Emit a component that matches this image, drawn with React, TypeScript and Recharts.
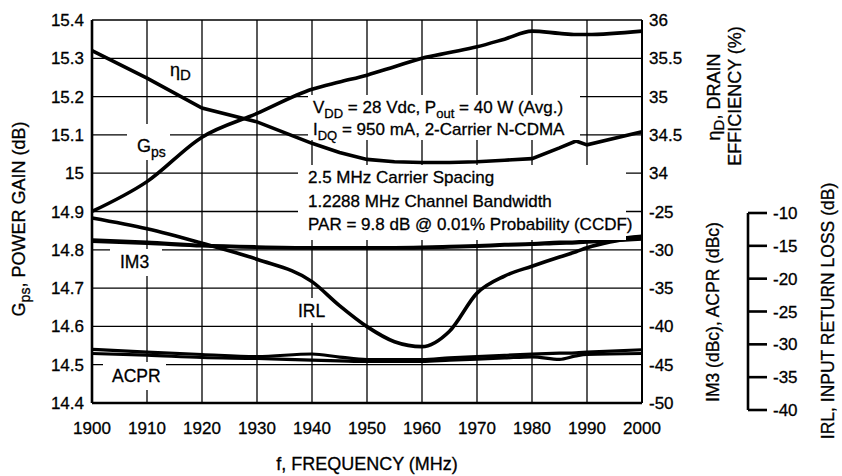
import React from 'react';
import { ComposedChart, Line, XAxis, YAxis, CartesianGrid } from 'recharts';

// ---- data ----
const freqs = [1900, 1910, 1920, 1930, 1940, 1945, 1950, 1955, 1960, 1965, 1970, 1975, 1980, 1985, 1988, 1990, 2000];
const gps = [14.9, 14.978, 15.094, 15.156, 15.219, 15.238, 15.256, 15.278, 15.3, 15.315, 15.33, 15.35, 15.371, 15.365, 15.362, 15.362, 15.371];
const eff = [35.6, 35.24, 34.85, 34.67, 34.39, 34.27, 34.18, 34.15, 34.14, 34.14, 34.15, 34.17, 34.19, 34.33, 34.42, 34.37, 34.54];
const im3Upper = [-28.7, -29.0, -29.4, -29.6, -29.7, -29.7, -29.7, -29.7, -29.65, -29.55, -29.45, -29.3, -29.2, -29.0, -28.95, -28.85, -28.2];
const im3Lower = [-28.9, -29.15, -29.5, -29.7, -29.8, -29.8, -29.8, -29.8, -29.75, -29.65, -29.55, -29.4, -29.3, -29.15, -29.1, -29.0, -28.6];
const acprUpper = [-43.0, -43.37, -43.67, -43.93, -43.6, -44.0, -44.32, -44.32, -44.32, -44.1, -43.93, -43.78, -43.63, -43.5, -43.45, -43.37, -43.05];
const acprLower = [-43.54, -43.76, -44.06, -44.19, -44.41, -44.5, -44.58, -44.58, -44.58, -44.42, -44.28, -44.12, -43.97, -44.3, -43.85, -43.67, -43.54];
const irl = [-10.76, -12.4, -14.6, -17.05, -20.45, -24.1, -27.3, -29.6, -30.35, -28.0, -22.2, -19.6, -18.1, -16.7, -15.9, -15.3, -13.6];

const xTicks = [1900, 1910, 1920, 1930, 1940, 1950, 1960, 1970, 1980, 1990, 2000];
const gpsTicks = [14.4, 14.5, 14.6, 14.7, 14.8, 14.9, 15, 15.1, 15.2, 15.3, 15.4];
const effTickLabels = [36, 35.5, 35, 34.5, 34];
const imdTickLabels = [-25, -30, -35, -40, -45, -50];
const irlTicks = [-40, -35, -30, -25, -20, -15, -10];

// right axis: one shared column of labels, efficiency on top half, IM3/ACPR on bottom half
const rightPositions = [0, -5, -10, -15, -20, -25, -30, -35, -40, -45, -50];
const rightLabel = (v: number) => {
  const i = rightPositions.indexOf(v);
  return i < effTickLabels.length ? String(effTickLabels[i]) : String(imdTickLabels[i - effTickLabels.length]);
};

// IRL hidden axis aligned so that -10 / -40 fall on the separate bracket axis
const IRL_TOP = 19.39;
const IRL_BOTTOM = -38.93;

const data = freqs.map((f, i) => ({
  f,
  gps: gps[i],
  eff: eff[i],
  im3a: im3Upper[i],
  im3b: im3Lower[i],
  acprA: acprUpper[i],
  acprB: acprLower[i],
  irl: irl[i],
}));

const irlAxisData = [
  { x: 0, v: -25 },
  { x: 1, v: -25 },
];

const FONT = '"Liberation Sans", Arial, Helvetica, sans-serif';
const INK = '#000';
const tickStyle = { fill: INK, fontSize: 17, fontFamily: FONT, stroke: INK, strokeWidth: 0.3 };

const lineProps = {
  stroke: INK,
  strokeWidth: 3.6,
  dot: false,
  activeDot: false,
  isAnimationActive: false,
} as const;

const Box = ({ x, y, w, h }: { x: number; y: number; w: number; h: number }) => (
  <rect x={x} y={y} width={w} height={h} fill="#fff" stroke="none" />
);

export default function App() {
  return (
    <div style={{ position: 'absolute', left: 0, top: 0, width: 842, height: 476, background: '#fff', fontFamily: FONT }}>
      <ComposedChart width={842} height={476} data={data} margin={{ top: 20, right: 140, bottom: 43, left: 0 }}>
        <CartesianGrid stroke={INK} strokeWidth={1.3} fill="none" />
        <XAxis
          dataKey="f"
          type="number"
          domain={[1900, 2000]}
          ticks={xTicks}
          axisLine={{ stroke: INK, strokeWidth: 2.6 }}
          tickLine={false}
          tickSize={0}
          tickMargin={19}
          tick={tickStyle}
          height={30}
          interval={0}
        />
        <YAxis
          type="number"
          domain={[14.4, 15.4]}
          ticks={gpsTicks}
          width={92}
          axisLine={{ stroke: INK, strokeWidth: 2.6 }}
          tickLine={false}
          tickSize={0}
          tickMargin={8}
          tick={tickStyle}
          interval={0}
        />
        <YAxis
          yAxisId="im"
          orientation="right"
          type="number"
          domain={[-50, 0]}
          ticks={rightPositions}
          tickFormatter={rightLabel}
          width={60}
          axisLine={{ stroke: INK, strokeWidth: 2 }}
          tickLine={false}
          tickSize={0}
          tickMargin={7}
          tick={{ ...tickStyle, textAnchor: 'start' }}
          interval={0}
        />
        <YAxis yAxisId="eff" type="number" domain={[31, 36]} hide allowDataOverflow />
        <YAxis yAxisId="irl" type="number" domain={[IRL_BOTTOM, IRL_TOP]} hide allowDataOverflow />

        <Line dataKey="gps" type="monotone" {...lineProps} />
        <Line dataKey="eff" yAxisId="eff" type="linear" {...lineProps} />
        <Line dataKey="im3a" yAxisId="im" type="monotone" {...lineProps} strokeWidth={3.2} />
        <Line dataKey="im3b" yAxisId="im" type="monotone" {...lineProps} strokeWidth={3.2} />
        <Line dataKey="acprA" yAxisId="im" type="monotone" {...lineProps} strokeWidth={3.2} />
        <Line dataKey="acprB" yAxisId="im" type="monotone" {...lineProps} strokeWidth={3.2} />
        <Line dataKey="irl" yAxisId="irl" type="monotone" {...lineProps} />
      </ComposedChart>

      {/* separate IRL bracket axis */}
      <div style={{ position: 'absolute', left: 700, top: 203 }}>
        <ComposedChart width={142} height={217} data={irlAxisData} margin={{ top: 10, right: 34, bottom: 10, left: 0 }}>
          <XAxis dataKey="x" type="number" domain={[0, 1]} hide />
          <YAxis
            yAxisId="irlAxis"
            orientation="right"
            type="number"
            domain={[-40, -10]}
            ticks={irlTicks}
            width={60}
            axisLine={{ stroke: INK, strokeWidth: 2.6 }}
            tickLine={{ stroke: INK, strokeWidth: 2.6 }}
            tickSize={19}
            tickMargin={6}
            tick={{ ...tickStyle, textAnchor: 'start' }}
            interval={0}
          />
          <Line dataKey="v" yAxisId="irlAxis" stroke="none" strokeWidth={0} dot={false} activeDot={false} isAnimationActive={false} />
        </ComposedChart>
      </div>

      {/* annotations and titles */}
      <svg width={842} height={476} style={{ position: 'absolute', left: 0, top: 0, pointerEvents: 'none' }} fontFamily={FONT} fill={INK} stroke={INK} strokeWidth={0.3}>
        <Box x={127} y={124} w={43} h={36} />
        <Box x={110} y={249} w={52} h={27} />
        <Box x={294} y={298} w={32} h={25} />
        <Box x={103} y={362} w={63} h={28} />
        <Box x={308} y={95} w={272} h={45} />
        <Box x={298} y={165} w={328} h={75} />

        <text x={170} y={76} fontSize={18}>
          η<tspan fontSize={15} dy={4}>D</tspan>
        </text>
        <text x={137} y={152} fontSize={18}>
          G<tspan fontSize={14} dy={5}>ps</tspan>
        </text>
        <text x={120} y={268} fontSize={17.5}>IM3</text>
        <text x={298} y={317} fontSize={17.5}>IRL</text>
        <text x={112} y={382} fontSize={17.5}>ACPR</text>

        <text x={313} y={113} fontSize={17}>
          V<tspan fontSize={13} dy={5}>DD</tspan>
          <tspan dy={-5}> = 28 Vdc, P</tspan>
          <tspan fontSize={13} dy={5}>out</tspan>
          <tspan dy={-5}> = 40 W (Avg.)</tspan>
        </text>
        <text x={313} y={135} fontSize={17}>
          I<tspan fontSize={13} dy={5}>DQ</tspan>
          <tspan dy={-5}> = 950 mA, 2-Carrier N-CDMA</tspan>
        </text>
        <text x={308} y={183} fontSize={17}>2.5 MHz Carrier Spacing</text>
        <text x={308} y={207} fontSize={17}>1.2288 MHz Channel Bandwidth</text>
        <text x={308} y={230} fontSize={17}>PAR = 9.8 dB @ 0.01% Probability (CCDF)</text>

        <text x={367} y={470} fontSize={18} textAnchor="middle">f, FREQUENCY (MHz)</text>
        <text transform="translate(25,219) rotate(-90)" fontSize={18} textAnchor="middle">
          G<tspan fontSize={14} dy={5}>ps</tspan>
          <tspan dy={-5}>, POWER GAIN (dB)</tspan>
        </text>
        <text transform="translate(720,97) rotate(-90)" fontSize={18} textAnchor="middle">
          η<tspan fontSize={15} dy={4}>D</tspan>
          <tspan dy={-4}>, DRAIN</tspan>
        </text>
        <text transform="translate(741,96) rotate(-90)" fontSize={18} textAnchor="middle">EFFICIENCY (%)</text>
        <text transform="translate(719,312) rotate(-90)" fontSize={17.5} textAnchor="middle">IM3 (dBc), ACPR (dBc)</text>
        <text transform="translate(834,311) rotate(-90)" fontSize={17.5} textAnchor="middle">IRL, INPUT RETURN LOSS (dB)</text>
      </svg>
    </div>
  );
}
